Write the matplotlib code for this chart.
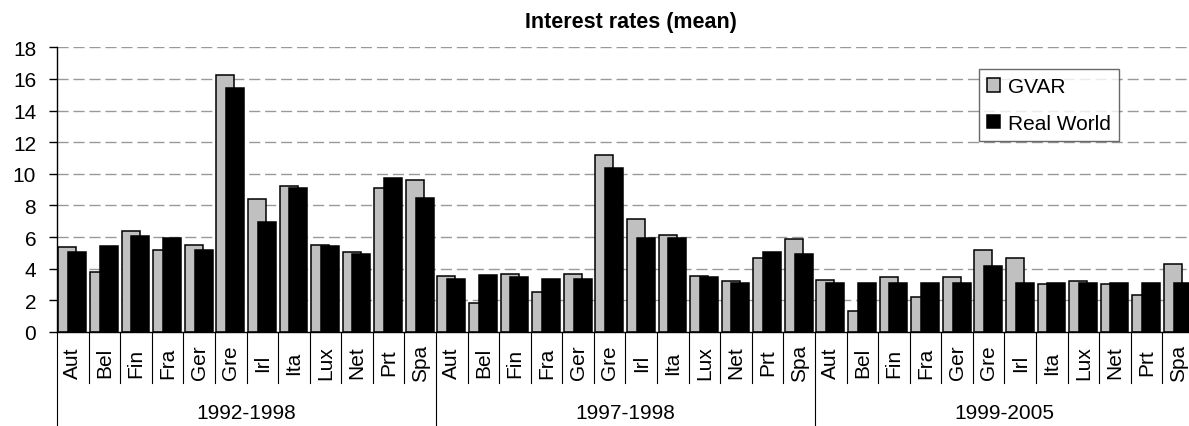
import matplotlib
matplotlib.use("Agg")
import numpy as np
import matplotlib.pyplot as plt
from matplotlib.transforms import blended_transform_factory


OUT_PATH = "out.png"

countries = ["Aut", "Bel", "Fin", "Fra", "Ger", "Gre", "Irl", "Ita", "Lux", "Net", "Prt", "Spa"]
periods = ["1992-1998", "1997-1998", "1999-2005"]

gvar = [
    5.4, 3.8, 6.4, 5.2, 5.5, 16.25, 8.4, 9.2, 5.5, 5.05, 9.1, 9.6,
    3.55, 1.85, 3.65, 2.55, 3.65, 11.2, 7.15, 6.15, 3.55, 3.2, 4.65, 5.9,
    3.3, 1.35, 3.45, 2.2, 3.45, 5.2, 4.7, 3.05, 3.2, 3.05, 2.35, 4.3,
]
real_world = [
    5.05, 5.45, 6.05, 5.95, 5.2, 15.4, 6.95, 9.1, 5.45, 4.95, 9.75, 8.5,
    3.35, 3.6, 3.45, 3.35, 3.35, 10.35, 5.95, 5.95, 3.45, 3.1, 5.05, 4.95,
    3.1, 3.1, 3.1, 3.1, 3.1, 4.2, 3.1, 3.1, 3.1, 3.1, 3.1, 3.1,
]


def main():
    plt.rcParams["font.family"] = ["Liberation Sans", "DejaVu Sans"]

    fig = plt.figure(figsize=(11.89, 4.27), dpi=100)
    ax = fig.add_axes([57 / 1189, 1 - 333 / 427, (1194 - 57) / 1189, (333 - 48.3) / 427])

    n_cat = len(countries) * len(periods)
    x = np.arange(n_cat)
    width = 0.57

    ax.bar(x - 0.17, gvar, width, color="#C0C0C0", edgecolor="black",
           linewidth=1.1, label="GVAR", zorder=2)
    ax.bar(x + 0.14, real_world, width, color="black", edgecolor="black",
           linewidth=1.1, label="Real World", zorder=3)

    ax.set_xlim(-0.5, n_cat - 0.5)
    ax.set_ylim(0, 18)
    ax.set_yticks(np.arange(0, 19, 2))
    ax.set_xticks([])
    ax.tick_params(axis="y", direction="out", length=6, width=1,
                   labelsize=15, pad=9)

    for y in np.arange(2, 19, 2):
        ax.axhline(y, color="#999999", linewidth=1, dashes=(8, 3.5), zorder=1)

    for side in ["top", "right"]:
        ax.spines[side].set_visible(False)
    ax.spines["left"].set_linewidth(1)
    ax.spines["bottom"].set_linewidth(1)

    # category labels and separators under the axis
    trans = blended_transform_factory(ax.transData, fig.transFigure)
    axis_bottom = 1 - 333 / 427
    for i in range(n_cat):
        ax.text(i, 1 - 363 / 427, countries[i % len(countries)], transform=trans,
                rotation=90, ha="center", va="center", fontsize=15)
    for i in range(n_cat + 1):
        if i % len(countries) == 0:
            y_end = 0
        else:
            y_end = 1 - 384 / 427
        ax.plot([i - 0.5, i - 0.5], [axis_bottom, y_end], transform=trans,
                color="black", linewidth=0.8, clip_on=False)

    for g, name in enumerate(periods):
        xc = g * len(countries) + (len(countries) - 1) / 2
        ax.text(xc, 1 - 414 / 427, name, transform=trans,
                ha="center", va="center", fontsize=15)

    fig.text(631 / 1189, 1 - 22.5 / 427, "Interest rates (mean)",
             ha="center", va="center", fontsize=15.5, fontweight="bold")

    leg = ax.legend(loc="upper left", bbox_to_anchor=(979 / 1189, 1 - 70 / 427),
                    bbox_transform=fig.transFigure, fontsize=15, frameon=True,
                    fancybox=False, borderaxespad=0, borderpad=0.4,
                    handlelength=0.62, handleheight=0.6, handletextpad=0.38,
                    labelspacing=0.85)
    leg.get_frame().set_edgecolor("#444444")
    leg.get_frame().set_linewidth(1)

    fig.savefig(OUT_PATH, dpi=100)


if __name__ == "__main__":
    main()
